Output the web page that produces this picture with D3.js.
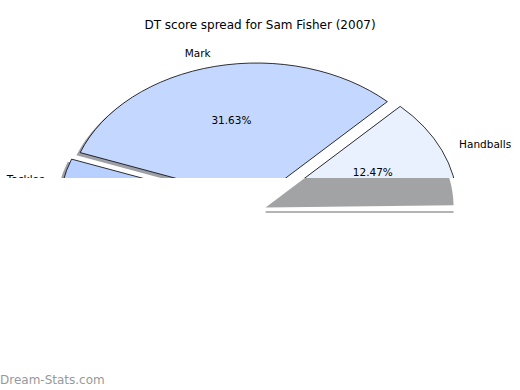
<!DOCTYPE html>
<html>
<head>
<meta charset="utf-8">
<script src="https://cdn.jsdelivr.net/npm/d3@7"></script>
<style>
  body { margin: 0; background: #fff; }
  text { font-family: "DejaVu Sans", sans-serif; }
</style>
</head>
<body>
<svg id="chart" width="520" height="390"></svg>
<script>
const title = "DT score spread for Sam Fisher (2007)"
const categories = ["Handballs", "Mark", "Tackles", "Kicks"]
const shares = [12.47, 31.63, 5.45, 50.45]
const sliceColors = ["#eaf1fe", "#c4d8ff", "#b8d0ff", "#a4c2fb"]
const explode = [0.06, 0.06, 0.06, 0.06]

const width = 520, height = 390
const cx = 259, cy = 208, rx = 188, ry = 137
const startDeg = 1
const cutY = 178

const svg = d3.select("#chart")
svg.append("rect").attr("width", width).attr("height", height).attr("fill", "#fff")

// data units -> pixels (y up like the original plot)
const x = d3.scaleLinear().domain([-1, 1]).range([cx - rx, cx + rx])
const y = d3.scaleLinear().domain([-1, 1]).range([cy + ry, cy - ry])

const a0 = Math.PI / 2 - startDeg * Math.PI / 180
const pie = d3.pie().sort(null).startAngle(a0).endAngle(a0 - 2 * Math.PI)
const slices = pie(shares).map((d, i) => {
    const m = (d.startAngle + d.endAngle) / 2
    const ux = Math.sin(m), uy = Math.cos(m)   // bisector direction, y up
    return { ...d, i, ux, uy, ox: explode[i] * ux, oy: explode[i] * uy }
})
const arc = d3.arc().innerRadius(0).outerRadius(1)

function shadowColor(c) {
    const col = d3.rgb(c)
    return d3.rgb(col.r * 0.3, col.g * 0.3, col.b * 0.3).toString()
}
function wedgeTransform(d, sx, sy) {
    return `translate(${x(d.ox + sx)},${y(d.oy + sy)}) scale(${rx},${ry})`
}

// shadows behind all wedges
const shadows = svg.append("g")
shadows.selectAll("path")
    .data(slices)
    .join("path")
    .attr("d", arc)
    .attr("transform", d => wedgeTransform(d, -0.02, -0.02))
    .attr("fill", d => shadowColor(sliceColors[d.i]))
    .attr("fill-opacity", 0.5)

svg.append("g").selectAll("path")
    .data(slices)
    .join("path")
    .attr("d", arc)
    .attr("transform", d => wedgeTransform(d, 0, 0))
    .attr("fill", d => sliceColors[d.i])
    .attr("stroke", "#000")
    .attr("stroke-width", 0.8)
    .attr("vector-effect", "non-scaling-stroke")

// category labels and percentages
svg.append("g").selectAll("text")
    .data(slices)
    .join("text")
    .attr("x", d => x(d.ox + 1.1 * d.ux))
    .attr("y", d => y(d.oy + 1.1 * d.uy))
    .attr("dy", "0.35em")
    .attr("text-anchor", d => d.ux >= 0 ? "start" : "end")
    .attr("font-size", 10.5)
    .attr("fill", "#000")
    .text(d => categories[d.i])

svg.append("g").selectAll("text")
    .data(slices)
    .join("text")
    .attr("x", d => x(d.ox + 0.6 * d.ux))
    .attr("y", d => y(d.oy + 0.6 * d.uy))
    .attr("dy", "0.35em")
    .attr("text-anchor", "middle")
    .attr("font-size", 10.5)
    .attr("fill", "#000")
    .text(d => d3.format(".2f")(shares[d.i]) + "%")

// the lower part of the picture is blank
svg.append("rect")
    .attr("x", 0).attr("y", cutY)
    .attr("width", width).attr("height", height - cutY)
    .attr("fill", "#fff")

svg.append("clipPath").attr("id", "lower")
    .append("rect").attr("x", 0).attr("y", cutY).attr("width", width).attr("height", height - cutY)

// only the first slice's shadow shows through below the cut
const first = slices[0]
svg.append("g")
    .attr("clip-path", "url(#lower)")
  .append("path")
    .attr("d", arc(first))
    .attr("transform", wedgeTransform(first, -0.02, -0.02))
    .attr("fill", shadowColor(sliceColors[0]))
    .attr("fill-opacity", 0.5)

const shY = y(first.oy - 0.02) + 4.5
svg.append("line")
    .attr("x1", x(first.ox - 0.02)).attr("x2", x(first.ox - 0.02 + 1))
    .attr("y1", shY).attr("y2", shY)
    .attr("stroke", "#b4b4b4")
    .attr("stroke-width", 2)

svg.append("text")
    .attr("x", width / 2).attr("y", 29)
    .attr("text-anchor", "middle")
    .attr("font-size", 12)
    .attr("fill", "#000")
    .text(title)

svg.append("text")
    .attr("x", 0).attr("y", 384)
    .attr("font-size", 12)
    .attr("fill", "#999")
    .text("Dream-Stats.com")
</script>
</body>
</html>
